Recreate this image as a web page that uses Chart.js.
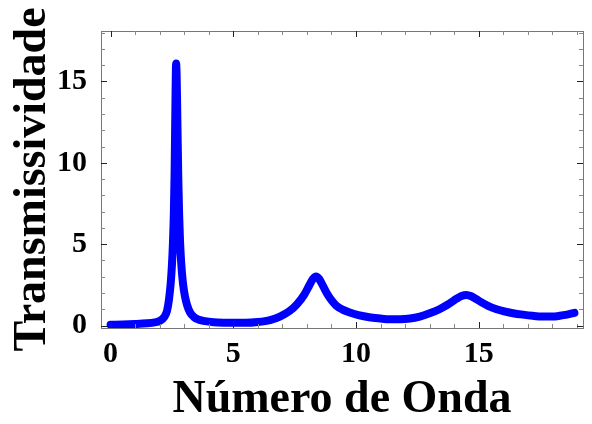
<!DOCTYPE html>
<html>
<head>
<meta charset="utf-8">
<script src="https://cdn.jsdelivr.net/npm/chart.js@4/dist/chart.umd.min.js"></script>
<style>
  body { margin: 0; background: #fff; }
</style>
</head>
<body>
<canvas id="transChart" width="592" height="424"></canvas>
<script>
// numero de onda (x) and transmissividade (y)
const waveNumber = [0, 0.5, 1.0, 1.5, 1.8, 2.0, 2.2, 2.3, 2.38, 2.45, 2.5, 2.54, 2.58, 2.61, 2.63, 2.65, 2.67, 2.69, 2.71, 2.73, 2.76, 2.79, 2.83, 2.88, 2.95, 3.03, 3.12, 3.24, 3.4, 3.6, 3.85, 4.2, 4.6, 5.0, 5.5, 6.0, 6.5, 6.9, 7.3, 7.6, 7.9, 8.1, 8.25, 8.37, 8.5, 8.65, 8.8, 9.0, 9.2, 9.45, 9.75, 10.1, 10.6, 11.0, 11.4, 11.8, 12.2, 12.6, 13.0, 13.4, 13.8, 14.1, 14.3, 14.5, 14.7, 14.9, 15.1, 15.4, 15.7, 16.0, 16.4, 16.8, 17.2, 17.6, 18.0, 18.3, 18.6, 18.9];
const transmissivity = [0.05, 0.06, 0.09, 0.14, 0.2, 0.28, 0.55, 0.9, 1.6, 2.6, 3.7, 5.0, 7.0, 9.5, 12.0, 14.5, 16.1, 15.5, 13.8, 11.8, 9.0, 7.0, 5.2, 3.8, 2.6, 1.8, 1.25, 0.8, 0.52, 0.36, 0.27, 0.21, 0.18, 0.17, 0.17, 0.22, 0.34, 0.55, 0.9, 1.32, 1.92, 2.48, 2.88, 3.02, 2.86, 2.45, 2.02, 1.56, 1.22, 0.98, 0.8, 0.64, 0.5, 0.43, 0.39, 0.39, 0.43, 0.55, 0.75, 1.0, 1.35, 1.65, 1.82, 1.88, 1.8, 1.63, 1.44, 1.2, 1.02, 0.89, 0.76, 0.67, 0.6, 0.56, 0.56, 0.6, 0.67, 0.78];

const xTicks = [0, 5, 10, 15];
const yTicks = [0, 5, 10, 15];

const points = waveNumber.map((x, i) => ({ x: x, y: transmissivity[i] }));

// frame with inward ticks on all four sides (mathematica style)
const framePlugin = {
  id: 'frame',
  afterDatasetsDraw(chart) {
    const c = chart.ctx;
    const a = chart.chartArea;
    const xs = chart.scales.x, ys = chart.scales.y;
    c.save();
    c.lineWidth = 1;
    c.strokeStyle = '#777';
    c.strokeRect(a.left + 0.5, a.top + 0.5, a.right - a.left, a.bottom - a.top);
    for (let v = 0; v <= 19; v++) {
      const major = v % 5 === 0;
      const len = major ? 6 : 4;
      c.strokeStyle = major ? '#222' : '#888';
      const px = Math.round(xs.getPixelForValue(v)) + 0.5;
      c.beginPath();
      c.moveTo(px, a.bottom); c.lineTo(px, a.bottom - len);
      c.moveTo(px, a.top); c.lineTo(px, a.top + len);
      c.stroke();
    }
    for (let v = 0; v <= 18; v++) {
      const major = v % 5 === 0;
      const len = major ? 6 : 4;
      c.strokeStyle = major ? '#222' : '#888';
      const py = Math.round(ys.getPixelForValue(v)) + 0.5;
      c.beginPath();
      c.moveTo(a.left, py); c.lineTo(a.left + len, py);
      c.moveTo(a.right, py); c.lineTo(a.right - len, py);
      c.stroke();
    }
    c.restore();
  }
};

const tickFont = { family: 'Liberation Serif', size: 30, weight: 'bold' };
const titleFont = { family: 'Liberation Serif', size: 46, weight: 'bold', lineHeight: 1 };

const config = {
  type: 'line',
  data: {
    datasets: [{
      data: points,
      borderColor: '#0000ff',
      backgroundColor: '#0000ff',
      borderWidth: 8,
      pointRadius: 0,
      cubicInterpolationMode: 'monotone',
      borderJoinStyle: 'round',
      borderCapStyle: 'round',
      fill: false
    }]
  },
  options: {
    responsive: false,
    animation: false,
    layout: { padding: { top: 31, right: 9, left: 0, bottom: 0 } },
    plugins: { legend: { display: false }, tooltip: { enabled: false } },
    scales: {
      x: {
        type: 'linear',
        min: -0.39,
        max: 19.25,
        grid: { display: false },
        border: { display: false },
        afterBuildTicks: s => { s.ticks = xTicks.map(v => ({ value: v })); },
        afterFit: s => { s.height = 96; },
        ticks: { font: tickFont, color: '#000', padding: 0, maxRotation: 0 },
        title: {
          display: true,
          text: 'Número de Onda',
          color: '#000',
          font: titleFont,
          padding: { top: 0, bottom: 1 }
        }
      },
      y: {
        type: 'linear',
        min: -0.15,
        max: 18.1,
        grid: { display: false },
        border: { display: false },
        afterBuildTicks: s => { s.ticks = yTicks.map(v => ({ value: v })); },
        afterFit: s => { s.width = 101; },
        ticks: { font: tickFont, color: '#000', padding: 6 },
        title: {
          display: true,
          text: 'Transmissividade',
          color: '#000',
          font: titleFont,
          padding: { top: 10, bottom: 0 }
        }
      }
    }
  },
  plugins: [framePlugin]
};

new Chart(document.getElementById('transChart').getContext('2d'), config);
</script>
</body>
</html>
